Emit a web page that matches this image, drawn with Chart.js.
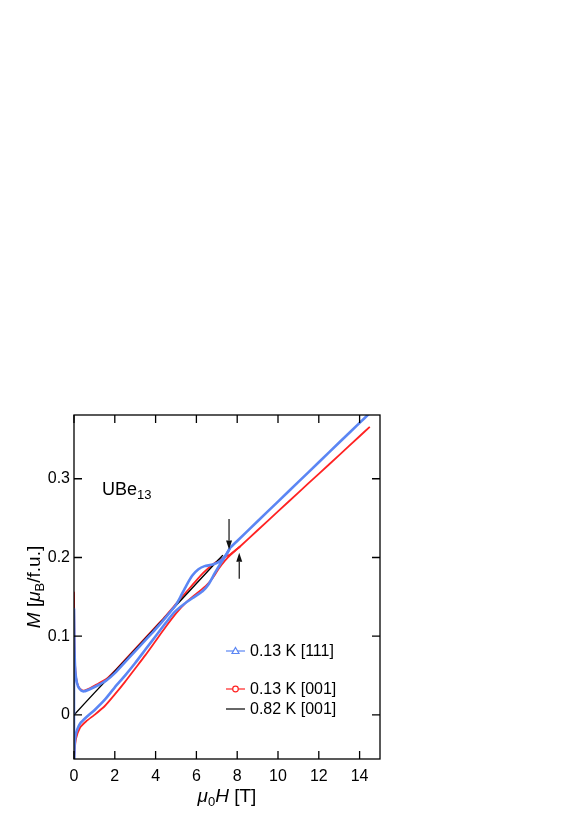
<!DOCTYPE html>
<html>
<head>
<meta charset="utf-8">
<script src="https://cdn.jsdelivr.net/npm/chart.js@4.4.1/dist/chart.umd.min.js"></script>
<style>
html, body { margin: 0; padding: 0; background: #fff; }
#wrap { width: 576px; height: 814px; }
</style>
</head>
<body>
<div id="wrap"><canvas id="chart" width="576" height="814"></canvas></div>
<script>
// 0.13 K [111], field sweep up (lower branch + high field)
const blueUpX = [0, 0.03, 0.08, 0.15, 0.3, 0.6, 1.0, 1.5, 2.0, 2.5, 3.0, 3.5, 4.0, 4.5, 4.9, 5.4, 5.9, 6.3, 6.6, 6.9, 7.2, 7.45, 7.65, 8, 9, 10, 11, 12, 13, 14, 14.5];
const blueUpY = [-0.06, -0.038, -0.026, -0.019, -0.011, -0.003, 0.006, 0.019, 0.035, 0.05, 0.066, 0.083, 0.1, 0.117, 0.13, 0.141, 0.15, 0.157, 0.166, 0.18, 0.193, 0.203, 0.212, 0.221, 0.246, 0.271, 0.296, 0.321, 0.346, 0.371, 0.3835];
// 0.13 K [111], field sweep down (upper branch)
const blueDownX = [7.65, 7.5, 7.2, 6.8, 6.4, 6.1, 5.8, 5.5, 5.2, 5.0, 4.5, 4.0, 3.5, 3.0, 2.5, 2.0, 1.6, 1.2, 0.8, 0.5, 0.35, 0.2, 0.1, 0.05, 0.02, 0, 0];
const blueDownY = [0.212, 0.205, 0.196, 0.191, 0.189, 0.185, 0.177, 0.164, 0.149, 0.14, 0.124, 0.109, 0.095, 0.081, 0.067, 0.053, 0.044, 0.038, 0.033, 0.03, 0.031, 0.036, 0.047, 0.062, 0.09, 0.134, -0.06];

// 0.13 K [001]
const redUpX = [0, 0.03, 0.1, 0.3, 0.6, 1.0, 1.5, 2.0, 2.5, 3.0, 3.5, 4.0, 4.5, 5.0, 5.5, 6.0, 6.5, 6.8, 7.1, 7.4, 7.7, 8.14, 9, 10, 11, 12, 13, 14, 14.5];
const redUpY = [-0.06, -0.045, -0.03, -0.016, -0.008, 0.0, 0.011, 0.026, 0.042, 0.059, 0.076, 0.094, 0.112, 0.129, 0.143, 0.154, 0.165, 0.174, 0.186, 0.196, 0.204, 0.214, 0.2346, 0.2585, 0.2824, 0.3063, 0.33, 0.354, 0.366];
const redDownX = [8.14, 7.6, 7.2, 6.8, 6.4, 6.0, 5.5, 5.0, 4.5, 4.0, 3.5, 3.0, 2.5, 2.0, 1.6, 1.2, 0.8, 0.5, 0.35, 0.2, 0.1, 0.05, 0.02, 0, 0];
const redDownY = [0.214, 0.203, 0.198, 0.191, 0.182, 0.171, 0.156, 0.141, 0.126, 0.112, 0.098, 0.084, 0.07, 0.056, 0.046, 0.04, 0.034, 0.031, 0.032, 0.037, 0.048, 0.065, 0.1, 0.155, -0.06];

// 0.82 K [001]
const blackX = [0, 1, 2, 3, 4, 5, 6, 7, 7.3];
const blackY = [0, 0.028, 0.0555, 0.083, 0.111, 0.139, 0.167, 0.195, 0.203];

const xTicks = [0, 2, 4, 6, 8, 10, 12, 14];
const yTicks = [0, 0.1, 0.2, 0.3];

// arrows marking the transition (field in T, M from -> to)
const arrows = [
    { x: 7.6, from: 0.249, to: 0.21 },
    { x: 8.1, from: 0.173, to: 0.206 }
];

const BLUE = '#5b86f4';
const RED = '#ff2222';
const FONT = '"Liberation Sans", Arial, Helvetica, sans-serif';

const pts = (xs, ys) => xs.map((x, i) => ({ x: x, y: ys[i] }));

const line = (data, color, width) => ({
    data: data,
    borderColor: color,
    borderWidth: width,
    pointRadius: 0,
    showLine: true,
    fill: false,
    tension: 0.2
});

function drawRich(ctx, parts, x, y, align) {
    // parts: [{t, size, italic, dy}]
    let total = 0;
    parts.forEach(p => {
        ctx.font = (p.italic ? 'italic ' : '') + p.size + 'px ' + FONT;
        p.w = ctx.measureText(p.t).width;
        total += p.w;
    });
    let cx = align === 'center' ? x - total / 2 : x;
    parts.forEach(p => {
        ctx.font = (p.italic ? 'italic ' : '') + p.size + 'px ' + FONT;
        ctx.fillText(p.t, cx, y + (p.dy || 0));
        cx += p.w;
    });
}

const decor = {
    id: 'decor',
    afterDraw(chart) {
        const ctx = chart.ctx;
        const a = chart.chartArea;
        const xs = chart.scales.x, ys = chart.scales.y;
        ctx.save();
        ctx.strokeStyle = '#000';
        ctx.lineWidth = 1.3;
        ctx.strokeRect(a.left, a.top, a.right - a.left, a.bottom - a.top);

        // inward ticks on all four sides
        const tl = 8;
        ctx.beginPath();
        xTicks.forEach(v => {
            const px = xs.getPixelForValue(v);
            ctx.moveTo(px, a.bottom); ctx.lineTo(px, a.bottom - tl);
            ctx.moveTo(px, a.top); ctx.lineTo(px, a.top + tl);
        });
        yTicks.forEach(v => {
            const py = ys.getPixelForValue(v);
            ctx.moveTo(a.left, py); ctx.lineTo(a.left + tl, py);
            ctx.moveTo(a.right, py); ctx.lineTo(a.right - tl, py);
        });
        ctx.stroke();

        ctx.fillStyle = '#000';
        ctx.textBaseline = 'alphabetic';

        // x axis title
        drawRich(ctx, [
            { t: 'μ', size: 19, italic: true },
            { t: '0', size: 13, dy: 4 },
            { t: 'H', size: 19, italic: true },
            { t: ' [T]', size: 19 }
        ], (a.left + a.right) / 2, 802, 'center');

        // y axis title
        ctx.save();
        ctx.translate(40, (a.top + a.bottom) / 2);
        ctx.rotate(-Math.PI / 2);
        drawRich(ctx, [
            { t: 'M', size: 19, italic: true },
            { t: ' [', size: 19 },
            { t: 'μ', size: 19, italic: true },
            { t: 'B', size: 13, dy: 4 },
            { t: '/f.u.]', size: 19 }
        ], 0, 0, 'center');
        ctx.restore();

        // compound label
        drawRich(ctx, [
            { t: 'UBe', size: 18 },
            { t: '13', size: 13, dy: 4 }
        ], xs.getPixelForValue(1.37), ys.getPixelForValue(0.279), 'left');

        // arrows
        ctx.strokeStyle = '#111';
        ctx.fillStyle = '#111';
        ctx.lineWidth = 1.2;
        arrows.forEach(ar => {
            const px = xs.getPixelForValue(ar.x);
            const p0 = ys.getPixelForValue(ar.from);
            const p1 = ys.getPixelForValue(ar.to);
            const dir = p1 > p0 ? 1 : -1;
            const hl = 9;
            ctx.beginPath();
            ctx.moveTo(px, p0);
            ctx.lineTo(px, p1 - dir * hl);
            ctx.stroke();
            ctx.beginPath();
            ctx.moveTo(px, p1);
            ctx.lineTo(px - 3, p1 - dir * hl);
            ctx.lineTo(px + 3, p1 - dir * hl);
            ctx.closePath();
            ctx.fill();
        });

        // legend
        const rows = [
            { label: '0.13 K [111]', color: BLUE, marker: 'triangle', y: 651 },
            { label: '0.13 K [001]', color: RED, marker: 'circle', y: 689 },
            { label: '0.82 K [001]', color: '#000', marker: null, y: 709 }
        ];
        ctx.textBaseline = 'middle';
        ctx.font = '16px ' + FONT;
        rows.forEach(r => {
            ctx.strokeStyle = r.color;
            ctx.lineWidth = 1.2;
            ctx.beginPath();
            ctx.moveTo(226, r.y); ctx.lineTo(245, r.y);
            ctx.stroke();
            ctx.fillStyle = '#fff';
            if (r.marker === 'triangle') {
                ctx.beginPath();
                ctx.moveTo(235.5, r.y - 3.5);
                ctx.lineTo(239, r.y + 2.5);
                ctx.lineTo(232, r.y + 2.5);
                ctx.closePath();
                ctx.fill(); ctx.stroke();
            } else if (r.marker === 'circle') {
                ctx.beginPath();
                ctx.arc(235.5, r.y, 2.8, 0, Math.PI * 2);
                ctx.fill(); ctx.stroke();
            }
            ctx.fillStyle = '#000';
            ctx.fillText(r.label, 250, r.y + 1);
        });
        ctx.restore();
    }
};

// first dataset is drawn on top
new Chart(document.getElementById('chart'), {
    type: 'scatter',
    data: {
        datasets: [
            line(pts(blueUpX, blueUpY), BLUE, 2.6),
            line(pts(blueDownX, blueDownY), BLUE, 2.6),
            line(pts(blackX, blackY), '#000', 1.4),
            line(pts(redUpX, redUpY), RED, 1.8),
            line(pts(redDownX, redDownY), RED, 1.8)
        ]
    },
    options: {
        responsive: false,
        animation: false,
        layout: { padding: { left: 0, top: 415, right: 196, bottom: 0 } },
        plugins: { legend: { display: false }, tooltip: { enabled: false } },
        scales: {
            x: {
                type: 'linear',
                min: 0,
                max: 15,
                afterFit: s => { s.height = 55; },
                afterBuildTicks: s => { s.ticks = xTicks.map(v => ({ value: v })); },
                grid: { display: false, drawTicks: false },
                border: { display: false },
                ticks: { color: '#000', padding: 8, font: { family: FONT, size: 16 }, maxRotation: 0 }
            },
            y: {
                type: 'linear',
                min: -0.056,
                max: 0.381,
                afterFit: s => { s.width = 74; },
                afterBuildTicks: s => { s.ticks = yTicks.map(v => ({ value: v })); },
                grid: { display: false, drawTicks: false },
                border: { display: false },
                ticks: {
                    color: '#000', padding: 4, font: { family: FONT, size: 16 },
                    callback: v => v === 0 ? '0' : v.toFixed(1)
                }
            }
        }
    },
    plugins: [decor]
});
</script>
</body>
</html>
